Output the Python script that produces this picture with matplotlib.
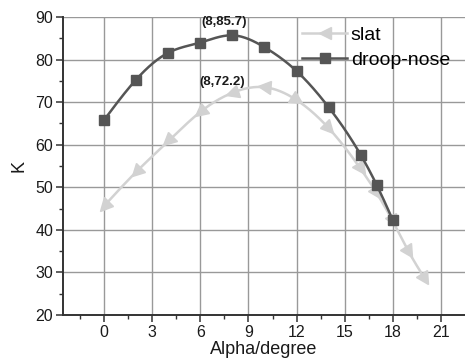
import numpy as np
import matplotlib
matplotlib.use("Agg")
import matplotlib.pyplot as plt
from matplotlib.markers import MarkerStyle
from matplotlib.transforms import Affine2D

plt.rcParams['font.family'] = ['Liberation Sans', 'DejaVu Sans']

# measured K vs angle of attack
alpha_slat = [0, 2, 4, 6, 8, 10, 12, 14, 16, 17, 18, 19, 20]
k_slat = [45.6, 53.6, 60.8, 67.7, 72.2, 73.5, 70.5, 63.9, 54.3, 48.6, 42.0, 34.8, 28.5]

alpha_droop = [0, 2, 4, 6, 8, 10, 12, 14, 16, 17, 18]
k_droop = [65.8, 75.3, 81.6, 84.0, 85.7, 82.9, 77.3, 68.8, 57.6, 50.5, 42.3]

peaks = [(8, 85.7), (8, 72.2)]

SLAT_COLOR = '#d2d2d2'
DROOP_COLOR = '#555555'


def natural_spline(x, y, n=400):
    # plain natural cubic spline, only used to draw the smooth line
    x = np.asarray(x, float)
    y = np.asarray(y, float)
    h = np.diff(x)
    m = len(x)
    A = np.zeros((m, m))
    b = np.zeros(m)
    A[0, 0] = A[-1, -1] = 1
    for i in range(1, m - 1):
        A[i, i - 1] = h[i - 1]
        A[i, i] = 2 * (h[i - 1] + h[i])
        A[i, i + 1] = h[i]
        b[i] = 6 * ((y[i + 1] - y[i]) / h[i] - (y[i] - y[i - 1]) / h[i - 1])
    M = np.linalg.solve(A, b)
    xs = np.linspace(x[0], x[-1], n)
    idx = np.clip(np.searchsorted(x, xs) - 1, 0, m - 2)
    x0, x1 = x[idx], x[idx + 1]
    hh = x1 - x0
    ys = (M[idx] * (x1 - xs) ** 3 / (6 * hh) + M[idx + 1] * (xs - x0) ** 3 / (6 * hh)
          + (y[idx] / hh - M[idx] * hh / 6) * (x1 - xs)
          + (y[idx + 1] / hh - M[idx + 1] * hh / 6) * (xs - x0))
    return xs, ys


fig = plt.figure(figsize=(4.65, 3.62), dpi=100)
ax = fig.add_axes([0.1355, 0.130, 0.8645, 0.823])

ax.set_xlim(-2.56, 22.5)
ax.set_ylim(20, 90)

# grid behind everything
ax.set_axisbelow(True)
ax.set_xticks(np.arange(0, 22, 3))
ax.set_xticks(np.arange(-1.5, 22, 3), minor=True)
ax.set_yticks(np.arange(20, 91, 10))
ax.set_yticks(np.arange(25, 90, 10), minor=True)
ax.grid(True, which='major', color='#999999', lw=1.0)

# smooth curves
xs, ys = natural_spline(alpha_slat, k_slat)
ax.plot(xs, ys, color=SLAT_COLOR, lw=1.8, zorder=2)
xd, yd = natural_spline(alpha_droop, k_droop)
ax.plot(xd, yd, color=DROOP_COLOR, lw=1.8, zorder=3)

# slat triangles point downhill along the curve
sx_px = 16.0
sy_px = 4.26
slopes = np.gradient(np.asarray(k_slat, float), np.asarray(alpha_slat, float))
for a, k, s in zip(alpha_slat, k_slat, slopes):
    ps = s * sy_px / sx_px
    if s >= -0.5:
        ang = np.degrees(np.arctan2(-ps, -1))
    else:
        ang = np.degrees(np.arctan2(ps, 1))
    mk = MarkerStyle('<', transform=Affine2D().rotate_deg(ang - 180))
    ax.plot([a], [k], marker=mk, ms=9, color=SLAT_COLOR, mec=SLAT_COLOR,
            ls='none', zorder=2.5)

ax.plot(alpha_droop, k_droop, 's', ms=7, color=DROOP_COLOR, zorder=4)

# legend proxies
h_slat, = ax.plot([], [], color=SLAT_COLOR, lw=1.8, marker='<', ms=9)
h_droop, = ax.plot([], [], color=DROOP_COLOR, lw=1.8, marker='s', ms=7)
ax.legend([h_slat, h_droop], ['slat', 'droop-nose'], loc='upper left',
          bbox_to_anchor=(0.595, 0.968), frameon=False, fontsize=14,
          handlelength=2.3, handletextpad=0.2, labelspacing=0.35,
          borderaxespad=0, borderpad=0)

# peak labels
for (px, py), off in zip(peaks, [(-8, 13), (-10, 11)]):
    ax.annotate(f'({px},{py})', (px, py), xytext=off, textcoords='offset pixels',
                ha='center', va='center', fontsize=9.5, fontweight='bold',
                color='#1a1a1a')

for side in ('top', 'right'):
    ax.spines[side].set_visible(False)
for side in ('left', 'bottom'):
    ax.spines[side].set_color('#333333')
    ax.spines[side].set_linewidth(1.4)

ax.tick_params(which='major', direction='out', length=5, width=1.1,
               color='#333333', labelsize=11.5, labelcolor='#1a1a1a', pad=2)
ax.tick_params(which='minor', direction='out', length=3, width=1.0,
               color='#333333')

ax.set_xlabel('Alpha/degree', fontsize=13, color='#1a1a1a', labelpad=1)
ax.set_ylabel('K', fontsize=13, color='#1a1a1a', labelpad=6)

fig.savefig('out.png', dpi=100)
